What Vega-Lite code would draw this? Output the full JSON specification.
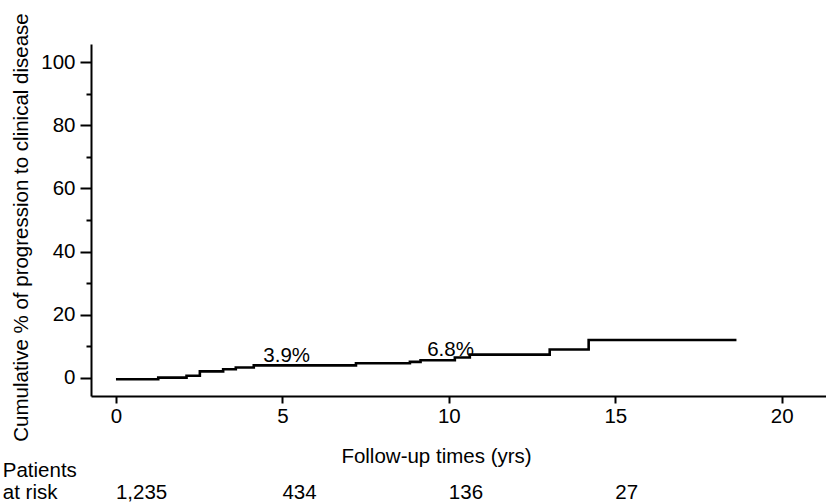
{
  "$schema": "https://vega.github.io/schema/vega-lite/v6.json",
  "width": 735,
  "height": 352,
  "autosize": {"type": "none"},
  "padding": {"left": 91, "top": 44, "right": 0, "bottom": 108},
  "background": "white",
  "config": {
    "view": {"stroke": null},
    "font": "Liberation Sans",
    "axis": {
      "grid": false,
      "domainColor": "black",
      "domainWidth": 2,
      "tickColor": "black",
      "tickWidth": 2,
      "labelColor": "black",
      "labelFont": "Liberation Sans",
      "labelFontSize": 20.5,
      "titleFont": "Liberation Sans",
      "titleFontSize": 20.5,
      "titleFontWeight": "normal",
      "titleColor": "black"
    }
  },
  "datasets": {
    "km": [
      {"t": 0, "v": -0.4},
      {"t": 1.27, "v": 0.1},
      {"t": 2.12, "v": 0.7},
      {"t": 2.52, "v": 2.1},
      {"t": 3.22, "v": 2.75},
      {"t": 3.6, "v": 3.3},
      {"t": 4.14, "v": 4.0},
      {"t": 7.21, "v": 4.65},
      {"t": 8.83, "v": 5.1},
      {"t": 9.15, "v": 5.6},
      {"t": 10.18, "v": 6.5},
      {"t": 10.63, "v": 7.4},
      {"t": 13.03, "v": 9.0},
      {"t": 14.2, "v": 12.0},
      {"t": 18.64, "v": 12.0}
    ],
    "notes": [
      {"t": 5.13, "v": 5.15, "label": "3.9%"},
      {"t": 10.05, "v": 7.0, "label": "6.8%"}
    ],
    "risk": [
      {"t": -3.4, "v": -31.2, "label": "Patients", "kind": "head"},
      {"t": -3.4, "v": -38.3, "label": "at risk", "kind": "head"},
      {"t": 0, "v": -38.3, "label": "1,235", "kind": "num"},
      {"t": 5, "v": -38.3, "label": "434", "kind": "num"},
      {"t": 10, "v": -38.3, "label": "136", "kind": "num"},
      {"t": 15, "v": -38.3, "label": "27", "kind": "num"}
    ]
  },
  "resolve": {"axis": {"y": "independent"}},
  "layer": [
    {
      "data": {"name": "km"},
      "mark": {"type": "line", "interpolate": "step-after", "color": "black", "strokeWidth": 2.6},
      "encoding": {
        "x": {
          "field": "t", "type": "quantitative",
          "scale": {"domain": [-0.75, 21.33], "nice": false, "zero": false},
          "axis": {
            "values": [0, 5, 10, 15, 20],
            "tickSize": 7,
            "labelPadding": 3,
            "title": "Follow-up times (yrs)",
            "titleX": 345,
            "titleY": 66,
            "titleAlign": "center",
            "titleBaseline": "alphabetic"
          }
        },
        "y": {
          "field": "v", "type": "quantitative",
          "scale": {"domain": [-5.7, 105.7], "nice": false, "zero": false},
          "axis": {
            "orient": "left",
            "values": [0, 20, 40, 60, 80, 100],
            "tickSize": 11,
            "labelPadding": 5,
            "title": "Cumulative % of progression to clinical disease",
            "titleAngle": 270,
            "titleX": -64,
            "titleY": 183,
            "titleAlign": "center",
            "titleBaseline": "alphabetic"
          }
        }
      }
    },
    {
      "data": {"name": "notes"},
      "mark": {"type": "text", "fontSize": 20.5, "align": "center", "baseline": "alphabetic", "color": "black"},
      "encoding": {
        "x": {"field": "t", "type": "quantitative"},
        "y": {
          "field": "v", "type": "quantitative",
          "axis": {
            "orient": "left",
            "values": [10, 30, 50, 70, 90],
            "tickSize": 5,
            "labels": false,
            "domain": false,
            "title": null
          }
        },
        "text": {"field": "label"}
      }
    },
    {
      "data": {"name": "risk"},
      "mark": {"type": "text", "fontSize": 20.5, "align": "left", "baseline": "alphabetic", "color": "black"},
      "encoding": {
        "x": {"field": "t", "type": "quantitative"},
        "y": {"field": "v", "type": "quantitative", "axis": null},
        "xOffset": {"condition": {"test": "datum.kind === 'num'", "value": -14.5}, "value": 0},
        "text": {"field": "label"}
      }
    }
  ]
}
